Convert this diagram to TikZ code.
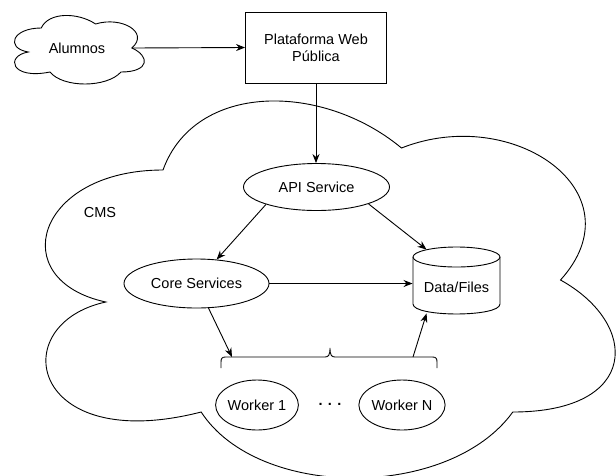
\documentclass[tikz,border=0pt]{standalone}
\usepackage{fontspec}
\setmainfont{Liberation Sans}
\usetikzlibrary{arrows.meta,shapes.geometric,calc}
\tikzset{
  cloudpic/.pic={
    \draw (0.25,0.25) .. controls (0.05,0.25) and (0,0.5) .. (0.16,0.55)
      .. controls (0,0.6) and (0.04,0.9) .. (0.31,0.8)
      .. controls (0.4,1) and (0.7,1) .. (0.8,0.8)
      .. controls (1,0.8) and (1,0.6) .. (0.875,0.5)
      .. controls (1,0.3) and (0.8,0.1) .. (0.625,0.2)
      .. controls (0.5,0.05) and (0.3,0.05) .. (0.25,0.25) -- cycle;
  },
  arr/.style={-{Stealth[length=9pt,width=7pt]}},
  oval/.style={ellipse,draw,inner sep=0pt},
  plain/.style={inner sep=0pt}
}
\begin{document}
\begin{tikzpicture}[x=1pt,y=-1pt,line width=0.9pt,font=\fontsize{14.5}{17}\selectfont]
\useasboundingbox (0,0) rectangle (616,475);
% big CMS cloud
\begin{scope}
  \clip (0,0) rectangle (616,475);
  \pic[xscale=636,yscale=440] at (4,60) {cloudpic};
\end{scope}
% Alumnos cloud
\pic[xscale=145,yscale=80] at (5,8) {cloudpic};
\node[plain,minimum width=110pt,minimum height=60pt] (alumnos) at (77,48) {Alumnos};
% web platform box
\node[draw,minimum width=141pt,minimum height=71pt,align=center] (web) at (316,47.5) {Plataforma Web\\Pública};
% services
\node[oval,minimum width=146pt,minimum height=47pt] (api) at (316.5,187) {API Service};
\node[oval,minimum width=145pt,minimum height=49pt] (core) at (196.5,283.5) {Core Services};
\node (cms) at (100,213) {CMS};
% data cylinder
\node[plain,minimum width=87pt,minimum height=67pt] (data) at (456.5,280.5) {};
\node (datalabel) at (456.5,287) {Data/Files};
\draw (456.5,257) ellipse [x radius=43.5, y radius=10];
\draw (413,257) -- (413,304) .. controls (413,317.3) and (500,317.3) .. (500,304) -- (500,257);
% workers
\node[oval,minimum width=73pt,minimum height=50pt] (w1) at (257,405) {Worker 1};
\node[oval,minimum width=75pt,minimum height=50pt] (wn) at (402,405) {Worker N};
\node[plain] (dots) at (330,404) {\textbf{. . .}};
% brace
\draw (221,368) -- (221,362) .. controls (221,358.5) and (222,357) .. (225.5,357)
  -- (325,357) .. controls (328.5,357) and (330,355) .. (330,348)
  .. controls (330,355) and (331.5,357) .. (335,357)
  -- (432.5,357) .. controls (436,357) and (437,358.5) .. (437,362) -- (437,368);
\coordinate (bl) at (232,357);
\coordinate (br) at (413,357);
% connectors
\draw[arr] (alumnos.east) -- (web.west);
\draw[arr] (web.south) -- (web.south |- api.north);
\draw[arr] (api.199) -- (core.50);
\draw[arr] (api.-18) -- ($(data.north west)+(14,3)$);
\draw[arr] (core.east) -- (core.east -| data.west);
\draw[arr] (core.-64) -- (bl);
\draw[arr] (br) -- ($(data.south west)+(14,-1)$);
\end{tikzpicture}
\end{document}
